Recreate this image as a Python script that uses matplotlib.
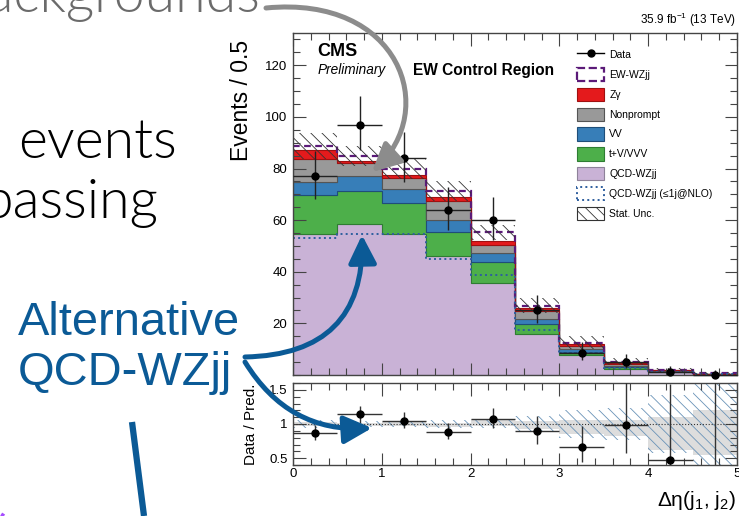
import matplotlib
matplotlib.use('Agg')
import matplotlib.pyplot as plt
import numpy as np
from matplotlib.patches import FancyArrowPatch, Patch, Arc
from matplotlib.lines import Line2D
from matplotlib.path import Path
from matplotlib.ticker import MultipleLocator, FixedLocator, FuncFormatter

W, H = 739, 516

plt.rcParams.update({
    'font.family': ['Liberation Sans', 'DejaVu Sans'],
    'mathtext.fontset': 'custom',
    'mathtext.rm': 'Liberation Sans',
    'mathtext.it': 'Liberation Sans:italic',
    'mathtext.bf': 'Liberation Sans:bold',
    'hatch.linewidth': 0.6,
})

# binning in delta eta(j1, j2)
edges = [0, 0.5, 1, 1.5, 2, 2.5, 3, 3.5, 4, 4.5, 5]

# stacked backgrounds (events / 0.5), bottom to top
qcd_wzjj = [54.8, 58.4, 54.6, 46.0, 35.7, 15.7, 7.6, 2.5, 1.0, 0.35]
t_v_vvv = [14.8, 12.8, 11.9, 9.5, 7.9, 4.0, 1.4, 0.5, 0.2, 0.05]
vv = [5.1, 6.0, 5.5, 4.4, 3.5, 1.9, 1.0, 0.5, 0.3, 0.05]
nonprompt = [9.1, 4.8, 4.4, 7.6, 3.1, 3.1, 1.3, 0.7, 0.3, 0.05]
z_gamma = [3.3, 0.9, 0.9, 1.3, 1.7, 1.1, 0.6, 0.4, 0.1, 0.02]
ew_wzjj = [1.6, 1.9, 2.6, 2.6, 3.4, 1.0, 0.6, 0.6, 0.2, 0.08]
qcd_alt = [53.1, 54.6, 54.6, 45.1, 38.9, 17.4, 8.4, 2.8, 1.1, 0.5]
stat_unc = [4.9, 3.9, 4.0, 3.8, 3.0, 2.9, 2.5, 1.2, 0.8, 0.5]

# observed data
data = [77, 97, 84, 64, 60, 25, 8.6, 5, 1, 0]
data_err_lo = [8.8, 9.8, 9.2, 8.0, 7.7, 5.0, 2.9, 2.2, 0.8, 0]
data_err_hi = [9.8, 10.9, 10.2, 9.0, 8.8, 6.0, 4.0, 3.3, 2.3, 1.8]

# ratio panel
ratio = [0.87, 1.14, 1.05, 0.89, 1.08, 0.90, 0.67, 0.99, 0.48, 0.0]
ratio_err_lo = [0.10, 0.12, 0.11, 0.11, 0.14, 0.19, 0.23, 0.42, 0.40, 0.0]
ratio_err_hi = [0.11, 0.13, 0.13, 0.12, 0.16, 0.22, 0.30, 0.62, 1.10, 3.0]
rel_unc = [0.055, 0.046, 0.05, 0.053, 0.054, 0.11, 0.2, 0.23, 0.42, 0.85]
gray_lo = [0.97, 0.97, 0.97, 0.96, 0.97, 0.93, 0.86, 0.82, 0.62, 0.55]
gray_hi = [1.03, 1.02, 1.03, 1.02, 1.08, 1.04, 1.06, 1.06, 1.10, 1.20]

legend_labels = ['Data', 'EW-WZjj', 'Z\u03b3', 'Nonprompt', 'VV', 't+V/VVV',
                 'QCD-WZjj', 'QCD-WZjj (\u22641j@NLO)', 'Stat. Unc.']

BLUE = '#0b5a96'
GRAY_ARROW = '#8c8c8c'
C_QCD, E_QCD = '#c9b2d6', '#8e8299'
C_TV, E_TV = '#4daf4a', '#2e7d32'
C_VV, E_VV = '#377eb8', '#1f4e79'
C_NP, E_NP = '#999999', '#555555'
C_ZG, E_ZG = '#e41a1c', '#a01010'
C_EW = '#5b1a78'
C_ALT = '#2e5e9e'
SPINE = '#444444'


def fpos(x, y):
    return x / W, 1 - y / H


fig = plt.figure(figsize=(W / 100, H / 100), dpi=100)
ax = fig.add_axes([293 / W, 1 - 375 / H, (737 - 293) / W, (375 - 33) / H])
rax = fig.add_axes([293 / W, 1 - 465 / H, (737 - 293) / W, (465 - 383) / H])

edges_a = np.array(edges)
centers = 0.5 * (edges_a[1:] + edges_a[:-1])

# stack
layers = [(qcd_wzjj, C_QCD, E_QCD), (t_v_vvv, C_TV, E_TV), (vv, C_VV, E_VV),
          (nonprompt, C_NP, E_NP), (z_gamma, C_ZG, E_ZG)]
bottom = np.zeros(len(centers))
for vals, fc, ec in layers:
    top = bottom + np.array(vals)
    ax.stairs(top, edges, baseline=bottom, fill=True, facecolor=fc,
              edgecolor=ec, linewidth=0.8)
    bottom = top
total = bottom + np.array(ew_wzjj)
ax.stairs(total, edges, baseline=None, color=C_EW, linestyle=(0, (3, 2)), linewidth=1.6)
ax.stairs(qcd_alt, edges, baseline=None, color=C_ALT, linestyle=':', linewidth=1.4)

unc = np.array(stat_unc)
ax.bar(centers, 2 * unc, bottom=total - unc, width=0.5, fill=False,
       hatch='\\\\\\', edgecolor='#333333', linewidth=0)

ax.errorbar(centers, data, xerr=0.25, yerr=[data_err_lo, data_err_hi], fmt='o',
            color='black', ecolor='#222222', ms=5, elinewidth=1, capsize=0, clip_on=False, zorder=5)

ax.set_xlim(0, 5)
ax.set_ylim(0, 132.5)
ax.yaxis.set_major_locator(FixedLocator([20, 40, 60, 80, 100, 120]))
ax.yaxis.set_minor_locator(MultipleLocator(5))
ax.xaxis.set_major_locator(MultipleLocator(1))
ax.xaxis.set_minor_locator(MultipleLocator(0.2))
ax.tick_params(axis='x', labelbottom=False)

# ratio panel
rax.bar(centers, np.array(gray_hi) - np.array(gray_lo), bottom=gray_lo, width=0.5,
        color='#dddddd', linewidth=0)
ru = np.array(rel_unc)
rax.bar(centers, 2 * ru, bottom=1 - ru, width=0.5, fill=False,
        hatch='\\\\\\', edgecolor='#6a93b8', linewidth=0)
rax.axhline(1, color='#333333', linestyle=':', linewidth=0.8)
rax.errorbar(centers, ratio, xerr=0.25, yerr=[ratio_err_lo, ratio_err_hi], fmt='o',
             color='black', ecolor='#333333', ms=5, elinewidth=1, capsize=0, zorder=5)
rax.set_xlim(0, 5)
rax.set_ylim(0.4, 1.6)
rax.yaxis.set_major_locator(FixedLocator([0.5, 1.0, 1.5]))
rax.yaxis.set_minor_locator(MultipleLocator(0.1))
rax.yaxis.set_major_formatter(FuncFormatter(lambda v, p: f'{v:g}'))
rax.xaxis.set_major_locator(MultipleLocator(1))
rax.xaxis.set_minor_locator(MultipleLocator(0.2))

for a in (ax, rax):
    a.tick_params(which='both', direction='in', top=True, right=True,
                  color=SPINE, labelsize=9.5, width=0.8)
    a.tick_params(which='major', length=9, pad=4)
    a.tick_params(which='minor', length=5)
    a.tick_params(axis='x', pad=2)
    for s in a.spines.values():
        s.set_color(SPINE)
        s.set_linewidth(1)

# legend
handles = [
    Line2D([], [], color='black', marker='o', ms=5, lw=1),
    Patch(facecolor='none', edgecolor=C_EW, linestyle='--', linewidth=1.6),
    Patch(facecolor=C_ZG, edgecolor=E_ZG, linewidth=0.8),
    Patch(facecolor=C_NP, edgecolor=E_NP, linewidth=0.8),
    Patch(facecolor=C_VV, edgecolor=E_VV, linewidth=0.8),
    Patch(facecolor=C_TV, edgecolor=E_TV, linewidth=0.8),
    Patch(facecolor=C_QCD, edgecolor=E_QCD, linewidth=0.8),
    Patch(facecolor='none', edgecolor=C_ALT, linestyle=':', linewidth=1.4),
    Patch(facecolor='none', edgecolor='#333333', hatch='\\\\\\', linewidth=0.8),
]
ax.legend(handles, legend_labels, loc='upper left', bbox_to_anchor=fpos(577, 48),
          bbox_transform=fig.transFigure, frameon=False, fontsize=7.5,
          handlelength=2.6, handleheight=1.6, labelspacing=0.62, handletextpad=0.5,
          borderpad=0, borderaxespad=0)

# CMS labels
fig.text(*fpos(317, 52), 'CMS', fontsize=13, fontweight='bold', va='center')
fig.text(*fpos(318, 70), 'Preliminary', fontsize=9.8, style='italic', va='center')
fig.text(*fpos(413, 70), 'EW Control Region', fontsize=11.2, fontweight='bold', va='center')
fig.text(*fpos(736, 20), r'35.9 fb$^{-1}$ (13 TeV)', fontsize=8.5, ha='right', va='center')
fig.text(*fpos(241, 100), 'Events / 0.5', fontsize=16.5, rotation=90, ha='center', va='center')
fig.text(*fpos(251, 424), 'Data / Pred.', fontsize=11, rotation=90, ha='center', va='center')
fig.text(*fpos(736, 500), '\u0394\u03b7(j$_{1}$, j$_{2}$)', fontsize=15,
         ha='right', va='center')

# slide text
light = dict(family=['Lato', 'DejaVu Sans'], fontweight=300)
fig.text(*fpos(260, 12), 'backgrounds', fontsize=40, color='#6b6b6b', ha='right', va='baseline', **light)
fig.text(*fpos(18, 158), 'events', fontsize=40, color='black', ha='left', va='baseline', **light)
fig.text(*fpos(158, 218), 'passing', fontsize=40, color='black', ha='right', va='baseline', **light)
fig.text(*fpos(18, 335), 'Alternative', fontsize=33.8, color=BLUE, ha='left', va='baseline')
fig.text(*fpos(18, 385), 'QCD-WZjj', fontsize=33.8, color=BLUE, ha='left', va='baseline')

# arrows
astyle = '-|>,head_length=1.0,head_width=0.5'
for p0, p1, rad in [((245, 357), (362, 235), 0.5), ((245, 362), (372, 428), 0.3)]:
    fig.add_artist(FancyArrowPatch(fpos(*p0), fpos(*p1), transform=fig.transFigure,
                                   connectionstyle=f'arc3,rad={rad}', arrowstyle=astyle,
                                   mutation_scale=17, lw=3.6, color=BLUE,
                                   shrinkA=0, shrinkB=0))

gray_path = Path([fpos(266, 8), fpos(400, -5), fpos(440, 110), fpos(372, 172)],
                 [Path.MOVETO, Path.CURVE4, Path.CURVE4, Path.CURVE4])
fig.add_artist(FancyArrowPatch(path=gray_path, transform=fig.transFigure, arrowstyle=astyle,
                               mutation_scale=17, lw=3.6, color=GRAY_ARROW))

fig.add_artist(Line2D([132 / W, 144 / W], [1 - 422 / H, 1 - 516 / H], transform=fig.transFigure,
                      lw=4.5, color=BLUE, solid_capstyle='butt'))
fig.add_artist(Arc(fpos(20, 525), 40 / W, 40 / H, theta1=135, theta2=170,
                   transform=fig.transFigure, color='#a64dff', lw=2.5))

fig.savefig('out.png', dpi=100)
